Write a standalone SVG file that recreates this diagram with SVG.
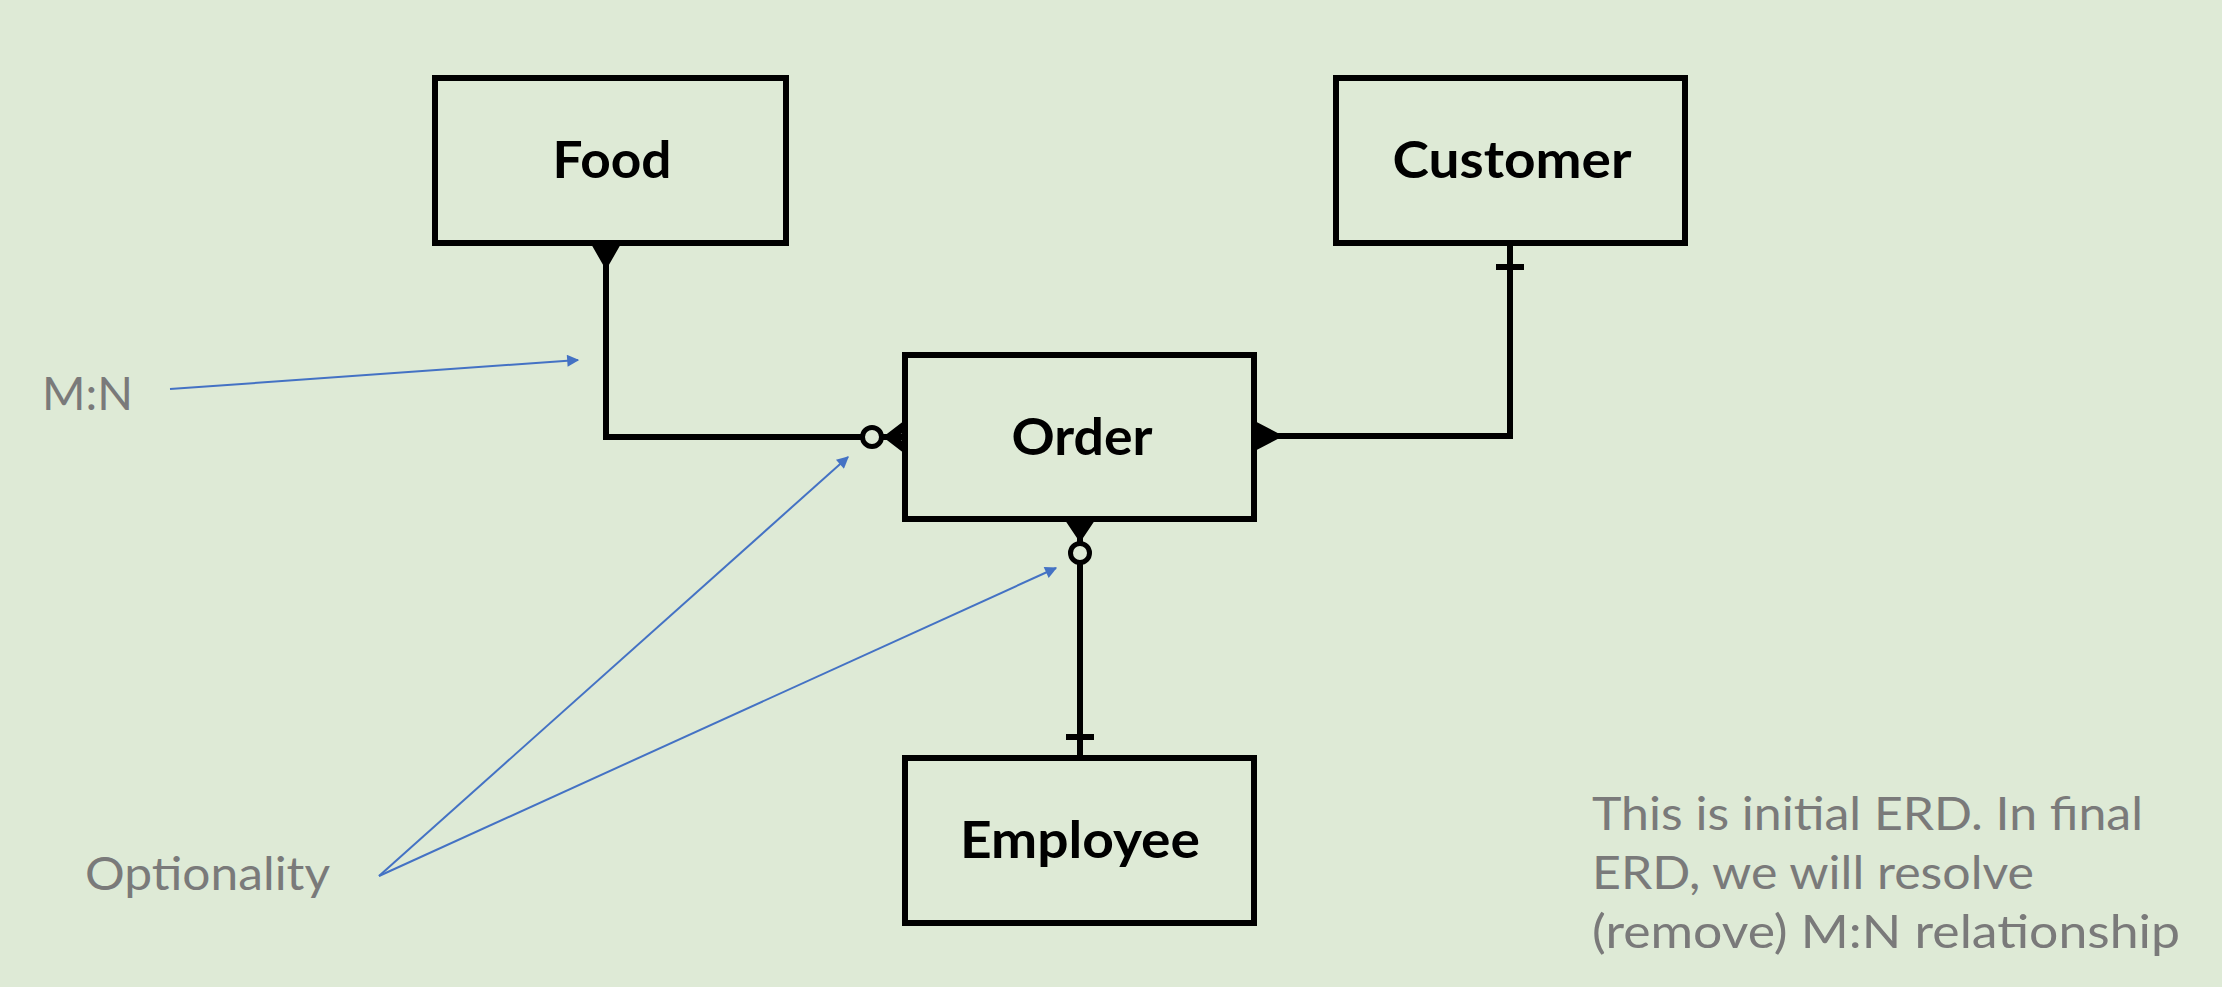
<svg xmlns="http://www.w3.org/2000/svg" width="2222" height="987" viewBox="0 0 2222 987">
<defs>
<style>
.box{fill:none;stroke:#000;stroke-width:6}
.lbl{font-family:Lato,"Open Sans","Liberation Sans",sans-serif;font-weight:bold;font-size:51px;fill:#000;text-anchor:middle}
.note{font-family:Lato,"Open Sans","Liberation Sans",sans-serif;font-size:46px;fill:#7a7a7a}
.con{fill:none;stroke:#000;stroke-width:6;stroke-linejoin:miter}
.crow{fill:none;stroke:#000;stroke-width:5}
.circ{fill:#deead6;stroke:#000;stroke-width:5}
.ann{fill:none;stroke:#4472c4;stroke-width:2}
</style>
<marker id="ahb" viewBox="0 0 10 10" refX="9" refY="5" markerWidth="16" markerHeight="12" markerUnits="userSpaceOnUse" orient="auto">
<path d="M0,0 L10,5 L0,10 z" fill="#4472c4"/>
</marker>
</defs>
<rect width="2222" height="987" fill="#deead6"/>

<g id="connectors">
<!-- Food - Order -->
<path class="con" d="M606,243 V437 H862"/>
<path class="crow" d="M594,244 L606,265 L618,244 M600,244 L606,265 L612,244 M606,244 V265"/>
<line class="con" x1="881" y1="437" x2="905" y2="437"/>
<path class="crow" d="M904,424 L887,437 L904,450 M904,430 L887,437 L904,444"/>
<circle class="circ" cx="872" cy="437" r="9.5"/>
<!-- Customer - Order -->
<path class="con" d="M1254,436 H1510 V243"/>
<path class="crow" d="M1255,424 L1278,436 L1255,448 M1255,430 L1278,436 L1255,442"/>
<line class="con" x1="1496" y1="267" x2="1524" y2="267"/>
<!-- Order - Employee -->
<line class="con" x1="1080" y1="519" x2="1080" y2="544"/>
<path class="crow" d="M1068,520 L1080,538 L1092,520 M1074,520 L1080,538 L1086,520"/>
<line class="con" x1="1080" y1="563" x2="1080" y2="758"/>
<circle class="circ" cx="1080" cy="553" r="9.5"/>
<line class="con" x1="1066" y1="737" x2="1094" y2="737"/>
<!-- annotation arrows -->
<line class="ann" x1="170" y1="389" x2="578" y2="360" marker-end="url(#ahb)"/>
<line class="ann" x1="379" y1="876" x2="848" y2="457" marker-end="url(#ahb)"/>
<line class="ann" x1="379" y1="876" x2="1056" y2="568" marker-end="url(#ahb)"/>
</g>

<g id="food">
<rect class="box" x="435" y="78" width="351" height="165"/>
<text class="lbl" x="612" y="178" textLength="119" lengthAdjust="spacingAndGlyphs">Food</text>
</g>
<g id="customer">
<rect class="box" x="1336" y="78" width="349" height="165"/>
<text class="lbl" x="1512" y="178" textLength="239" lengthAdjust="spacingAndGlyphs">Customer</text>
</g>
<g id="order">
<rect class="box" x="905" y="355" width="349" height="164"/>
<text class="lbl" x="1082" y="455" textLength="141" lengthAdjust="spacingAndGlyphs">Order</text>
</g>
<g id="employee">
<rect class="box" x="905" y="758" width="349" height="165"/>
<text class="lbl" x="1080" y="858" textLength="240" lengthAdjust="spacingAndGlyphs">Employee</text>
</g>

<g id="notes">
<text class="note" x="42" y="410" font-size="48" textLength="91" lengthAdjust="spacingAndGlyphs">M:N</text>
<text class="note" x="85" y="890" textLength="245" lengthAdjust="spacingAndGlyphs">Optionality</text>
<text class="note" x="1592" y="830" textLength="551" lengthAdjust="spacingAndGlyphs">This is initial ERD. In final</text>
<text class="note" x="1592" y="889" textLength="442" lengthAdjust="spacingAndGlyphs">ERD, we will resolve</text>
<text class="note" x="1592" y="948" textLength="588" lengthAdjust="spacingAndGlyphs">(remove) M:N relationship</text>
</g>
</svg>
